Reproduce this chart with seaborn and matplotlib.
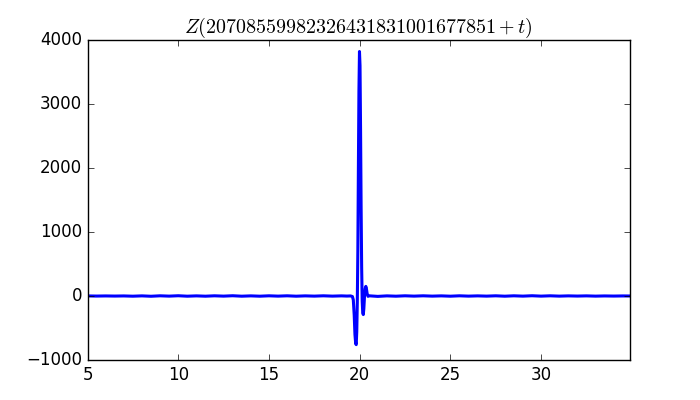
import matplotlib
matplotlib.use("Agg")
import matplotlib.pyplot as plt
import seaborn as sns
import pandas as pd

# t offsets and Z values
t_flat_left = [5.0, 5.5, 6.0, 6.5, 7.0, 7.5, 8.0, 8.5, 9.0, 9.5, 10.0, 10.5, 11.0, 11.5,
               12.0, 12.5, 13.0, 13.5, 14.0, 14.5, 15.0, 15.5, 16.0, 16.5, 17.0, 17.5,
               18.0, 18.5, 19.0, 19.3, 19.5]
z_flat_left = [1, -1, 1, -1, 1, -3, 2, -4, 3, -2, 4, -3, 2, -3, 3, -2, 4, -3, 2, -3,
               3, -2, 3, -3, 2, -2, 3, -2, 2, -1, 1]

t_spike = [19.60, 19.65, 19.70, 19.74, 19.78, 19.81, 19.84, 19.87, 19.90, 19.93,
           19.96, 19.99, 20.02, 20.05, 20.08, 20.11, 20.14, 20.17, 20.20, 20.23,
           20.27, 20.31, 20.34, 20.37, 20.41, 20.46, 20.52]
z_spike = [-8, -60, -300, -600, -740, -760, -560, -100, 700, 2000,
           3200, 3820, 3600, 2600, 1400, 450, -80, -260, -290, -200,
           10, 120, 150, 120, 40, -5, 3]

t_flat_right = [21.0, 21.5, 22.0, 22.5, 23.0, 23.5, 24.0, 24.5, 25.0, 25.5, 26.0,
                26.5, 27.0, 27.5, 28.0, 28.5, 29.0, 29.5, 30.0, 30.5, 31.0, 31.5,
                32.0, 32.5, 33.0, 33.5, 34.0, 34.5, 34.9]
z_flat_right = [-6, 2, -3, 3, -2, 3, -2, 2, -3, 3, -2, 2, -2, 3, -3, 3, -2, 4, -2,
                3, -2, 2, -1, 2, -2, 1, -1, 1, 0]

title_text = r"$Z(20708559982326431831001677851+t)$"
x_ticks = [5, 10, 15, 20, 25, 30]
y_ticks = [-1000, 0, 1000, 2000, 3000, 4000]

df = pd.DataFrame({
    "t": t_flat_left + t_spike + t_flat_right,
    "z": z_flat_left + z_spike + z_flat_right,
})

plt.style.use("classic")
fig = plt.figure(figsize=(7, 4), dpi=100, facecolor="white")
ax = fig.add_subplot(111)
sns.lineplot(data=df, x="t", y="z", ax=ax, color="b", linewidth=2.2,
             estimator=None, sort=True)
ax.set_xlim(5, 34.9)
ax.set_ylim(-1000, 4000)
ax.set_xticks(x_ticks)
ax.set_yticks(y_ticks)
ax.set_xlabel("")
ax.set_ylabel("")
ax.set_title(title_text)
fig.savefig("out.png", dpi=100, facecolor="white")
